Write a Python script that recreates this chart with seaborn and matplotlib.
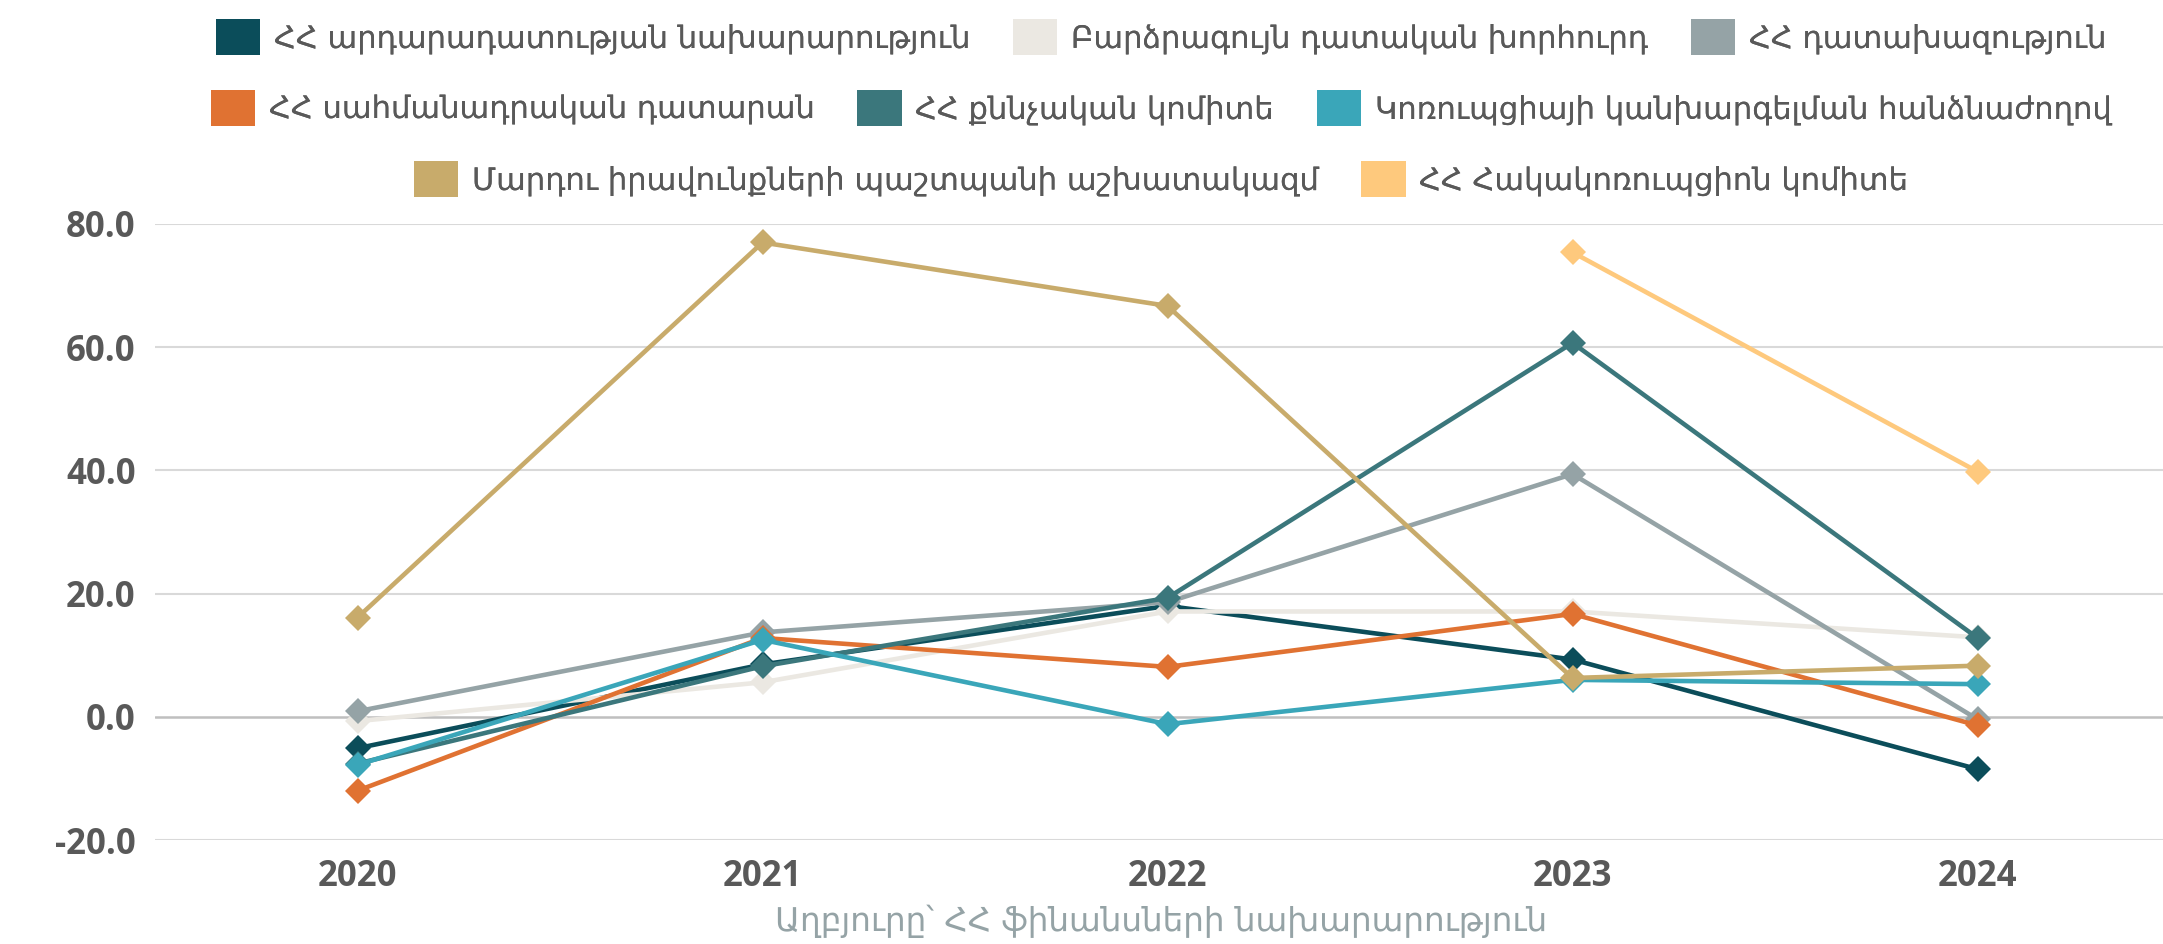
import numpy as np
import pandas as pd
import seaborn as sns
import matplotlib.pyplot as plt
from matplotlib.patches import Patch

years = [2020, 2021, 2022, 2023, 2024]

names = [
    "ՀՀ արդարադատության նախարարություն",
    "Բարձրագույն դատական խորհուրդ",
    "ՀՀ դատախազություն",
    "ՀՀ սահմանադրական դատարան",
    "ՀՀ քննչական կոմիտե",
    "Կոռուպցիայի կանխարգելման հանձնաժողով",
    "Մարդու իրավունքների պաշտպանի աշխատակազմ",
    "ՀՀ Հակակոռուպցիոն կոմիտե",
]

justice_min = [-5.1, 8.5, 18.0, 9.3, -8.5]
judicial_council = [-0.7, 5.6, 17.1, 17.1, 12.9]
prosecutor = [0.9, 13.7, 18.6, 39.4, -0.4]
const_court = [-12.0, 12.8, 8.1, 16.7, -1.4]
investigative = [-7.6, 8.2, 19.3, 60.7, 12.8]
corruption_prev = [-7.8, 12.5, -1.2, 6.0, 5.3]
ombudsman = [16.1, 77.0, 66.7, 6.3, 8.3]
anticorruption = [np.nan, np.nan, np.nan, 75.4, 39.8]

colors = ["#0b4d5a", "#ebe8e2", "#95a3a6", "#e07232",
          "#3b777c", "#3aa6b9", "#c8ab6b", "#fec97d"]

series = [justice_min, judicial_council, prosecutor, const_court,
          investigative, corruption_prev, ombudsman, anticorruption]

df = pd.DataFrame({
    "year": years * len(names),
    "name": [n for n in names for _ in years],
    "value": [v for s in series for v in s],
})

sns.set_style("white")
plt.rcParams['axes.unicode_minus'] = False

fig = plt.figure(figsize=(21.63, 9.44), dpi=100)
ax = fig.add_axes([155 / 2163, 1 - 840 / 944, 2025 / 2163, (840 - 224) / 944])

for y in [-20, 20, 40, 60, 80]:
    ax.axhline(y, color="#d9d9d9", lw=1.5, zorder=0)
ax.axhline(0, color="#bfbfbf", lw=1.8, zorder=0)

sns.lineplot(data=df, x="year", y="value", hue="name", hue_order=names,
             palette=colors, marker="D", markersize=13, markeredgewidth=0,
             linewidth=3.3, legend=False, ax=ax)

ax.set_xlim(2019.5, 2024.5)
ax.set_ylim(-20, 80)
ax.set_xticks(years)
ax.set_xticklabels([str(y) for y in years])
ax.set_yticks([-20, 0, 20, 40, 60, 80])
ax.set_yticklabels([f"{v:.1f}" for v in [-20, 0, 20, 40, 60, 80]])
ax.set_xlabel("")
ax.set_ylabel("")
for s in ax.spines.values():
    s.set_visible(False)
ax.tick_params(length=0, pad=14, labelsize=25, labelcolor="#595959")
for lab in ax.get_xticklabels() + ax.get_yticklabels():
    lab.set_family("Open Sans")
    lab.set_fontweight("bold")

handles = [Patch(facecolor=c, edgecolor="none") for c in colors]
rows = [[0, 1, 2], [3, 4, 5], [6, 7]]
row_y = [37, 108, 179]
for r, yy in zip(rows, row_y):
    leg = fig.legend([handles[i] for i in r], [names[i] for i in r],
                     loc="center", bbox_to_anchor=(1161 / 2163, 1 - yy / 944),
                     ncol=len(r), frameon=False, borderpad=0,
                     handlelength=1.45, handleheight=1.45, handletextpad=0.45,
                     columnspacing=1.4,
                     prop={"family": "DejaVu Sans", "size": 22})
    for t in leg.get_texts():
        t.set_color("#595959")
    fig.add_artist(leg)

fig.text(1161 / 2163, 1 - 921 / 944, "Աղբյուրը՝ ՀՀ ֆինանսների նախարարություն",
         ha="center", va="center", color="#95a3a6", fontsize=23.5,
         family="DejaVu Sans")

fig.savefig("out.png", dpi=100)
